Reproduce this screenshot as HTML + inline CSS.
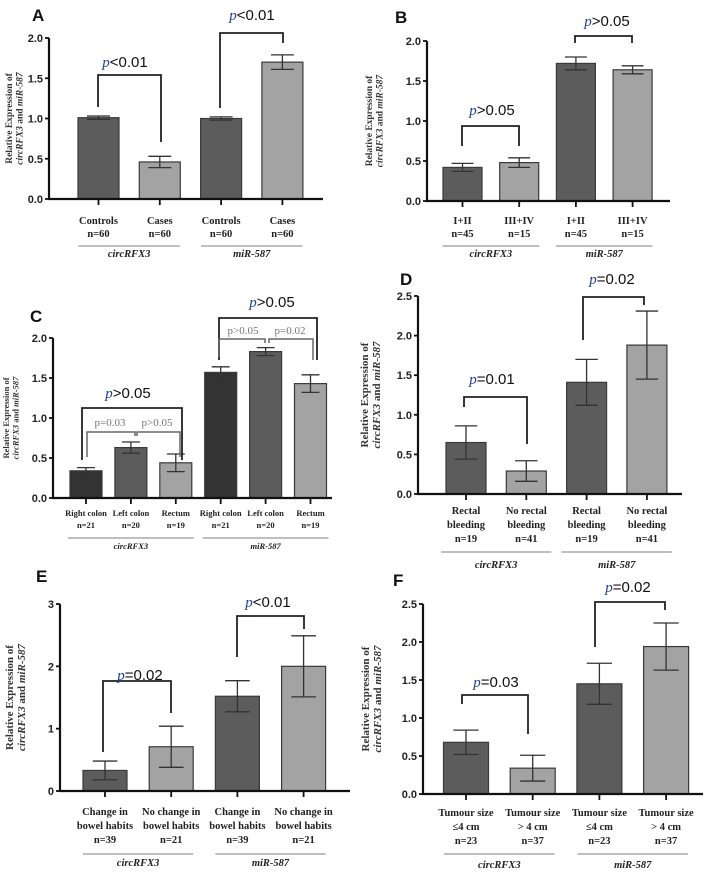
<!DOCTYPE html>
<html><head><meta charset="utf-8"><style>
html,body{margin:0;padding:0;background:#fff;}
svg{display:block;}
.tick{font-family:"Liberation Sans",sans-serif;font-weight:bold;font-size:11px;fill:#222;}
.cat{font-family:"Liberation Serif",serif;font-weight:bold;fill:#222;}
.yt{font-family:"Liberation Serif",serif;font-weight:bold;fill:#333;}
.pl{font-family:"Liberation Sans",sans-serif;font-weight:bold;font-size:17px;fill:#111;}
.pv{font-family:"Liberation Sans",sans-serif;font-size:15px;fill:#111;}
.pg{font-family:"Liberation Serif",serif;font-size:11px;fill:#777;}
</style></head><body>
<svg id="fig" width="711" height="873" viewBox="0 0 711 873" xmlns="http://www.w3.org/2000/svg"></svg>
<script>
// ---- data ----
const aValues=[1.01,0.46,1.00,1.70];
const aErrors=[0.02,0.07,0.02,0.09];
const aCats=[["Controls","n=60"],["Cases","n=60"],["Controls","n=60"],["Cases","n=60"]];
const bValues=[0.42,0.48,1.72,1.64];
const bErrors=[0.05,0.06,0.08,0.05];
const bCats=[["I+II","n=45"],["III+IV","n=15"],["I+II","n=45"],["III+IV","n=15"]];
const cValues=[0.34,0.63,0.44,1.57,1.83,1.43];
const cErrors=[0.04,0.07,0.11,0.07,0.05,0.11];
const cCats=[["Right colon","n=21"],["Left colon","n=20"],["Rectum","n=19"],["Right colon","n=21"],["Left colon","n=20"],["Rectum","n=19"]];
const dValues=[0.65,0.29,1.41,1.88];
const dErrors=[0.21,0.13,0.29,0.43];
const dCats=[["Rectal","bleeding","n=19"],["No rectal","bleeding","n=41"],["Rectal","bleeding","n=19"],["No rectal","bleeding","n=41"]];
const eValues=[0.33,0.71,1.52,2.00];
const eErrors=[0.15,0.33,0.25,0.49];
const eCats=[["Change in","bowel habits","n=39"],["No change in","bowel habits","n=21"],["Change in","bowel habits","n=39"],["No change in","bowel habits","n=21"]];
const fValues=[0.68,0.34,1.45,1.94];
const fErrors=[0.16,0.17,0.27,0.31];
const fCats=[["Tumour size","≤4 cm","n=23"],["Tumour size","> 4 cm","n=37"],["Tumour size","≤4 cm","n=23"],["Tumour size","> 4 cm","n=37"]];
const twoTicks=["0.0","0.5","1.0","1.5","2.0"];
const twoFiveTicks=["0.0","0.5","1.0","1.5","2.0","2.5"];
const threeTicks=["0","1","2","3"];

const NS="http://www.w3.org/2000/svg";
const svg=document.getElementById('fig');
function mk(tag,attrs,parent){const e=document.createElementNS(NS,tag);for(const k in attrs)e.setAttribute(k,attrs[k]);(parent||svg).appendChild(e);return e;}

function panel(cfg,values,errors,cats,ticks){
  const g=mk('g',{});
  
  
  const ys=v=>cfg.y0-(v/cfg.max)*(cfg.y0-cfg.yTop);
  const xc=i=>cfg.c0+cfg.step*i;
  const pl=mk('text',{x:cfg.lx,y:cfg.ly,class:'pl'},g);pl.textContent=cfg.id;
  
  
  values.forEach((v,i)=>{
    const col=cfg.colors[i];
    const r=mk('rect',{x:xc(i)-cfg.bw/2,y:ys(v),width:cfg.bw,height:cfg.y0-ys(v),fill:col,stroke:'#3a3a3a','stroke-width':1.2},g);
    
    
    const e=errors[i],x=xc(i),hw=cfg.bw*0.28;
    const eb=mk('path',{d:`M${x} ${ys(v+e)}V${ys(v-e)}M${x-hw} ${ys(v+e)}H${x+hw}M${x-hw} ${ys(v-e)}H${x+hw}`,stroke:'#333','stroke-width':1.3,fill:'none'},g);
    
    
  });
  const ax=mk('path',{d:`M${cfg.ax} ${ys(cfg.max)}V${cfg.y0}H${cfg.axEnd}`,stroke:'#111','stroke-width':2.2,fill:'none'},g);
  
  
  ticks.forEach((t,i)=>{
    const v=cfg.max*i/(ticks.length-1);
    mk('line',{x1:cfg.ax-4,x2:cfg.ax,y1:ys(v),y2:ys(v),stroke:'#111','stroke-width':1.8},g);
    const tx=mk('text',{x:cfg.ax-6,y:ys(v)+4,class:'tick','text-anchor':'end'},g);tx.textContent=t;
    
    
  });
  values.forEach((v,i)=>{
    mk('line',{x1:xc(i),x2:xc(i),y1:cfg.y0,y2:cfg.y0+6,stroke:'#111','stroke-width':1.8},g);
    cats[i].forEach((s,j)=>{
      const t=mk('text',{x:xc(i),y:cfg.catY+j*cfg.catDy,class:'cat','text-anchor':'middle','font-size':cfg.catFs},g);t.textContent=s;
      
      
    });
  });
  const n=values.length/2;
  ['circRFX3','miR-587'].forEach((name,k)=>{
    const a=xc(k*n)-cfg.gpad,b=xc(k*n+n-1)+cfg.gpad;
    mk('line',{x1:a,x2:b,y1:cfg.gLineY,y2:cfg.gLineY,stroke:'#999','stroke-width':1.2},g);
    const t=mk('text',{x:(a+b)/2,y:cfg.gY,class:'cat','text-anchor':'middle','font-size':cfg.catFs,'font-style':'italic'},g);t.textContent=name;
    
    
  });
  const yc=(cfg.yTop+cfg.y0)/2;
  const yt=mk('text',{class:'yt','text-anchor':'middle','font-size':cfg.ytFs,transform:`translate(${cfg.ytx},${yc}) rotate(-90)`},g);
  
  
  const t1=mk('tspan',{x:0,y:0},yt);t1.textContent='Relative Expression of';
  const t2=mk('tspan',{x:0,dy:cfg.ytFs*1.1,'font-style':'italic'},yt);t2.textContent='circRFX3';
  const t3=mk('tspan',{},yt);t3.textContent=' and ';
  const t4=mk('tspan',{'font-style':'italic'},yt);t4.textContent='miR-587';
  cfg.brackets.forEach(b=>{
    const p=mk('path',{d:`M${b[0]} ${b[3]}V${b[2]}H${b[1]}V${b[4]}`,stroke:b[5]?'#666':'#222','stroke-width':b[5]?1.5:1.8,fill:'none'},g);
    
    
  });
  cfg.pt.forEach(p=>{
    let t;
    if(p[3]){t=mk('text',{x:p[0],y:p[1],class:'pg','text-anchor':'middle'},g);t.textContent=p[2];}
    else{
      t=mk('text',{x:p[0],y:p[1],class:'pv','text-anchor':'middle'},g);
      const s1=mk('tspan',{'font-style':'italic',fill:'#1f3f8f','font-family':'Liberation Serif, serif'},t);s1.textContent='p';
      const s2=mk('tspan',{},t);s2.textContent=p[2];
    }
    
    
  });
}
const DK='#5c5c5c',LT='#a3a3a3';
panel({id:'A',lx:32,ly:21,ax:49,axEnd:323,y0:199,yTop:38,max:2,c0:98.5,step:61.3,bw:41,colors:[DK,LT,DK,LT],
  catY:224,catDy:13,catFs:10.5,gLineY:246,gY:257,gpad:20,ytx:12,ytFs:9.5,
  brackets:[[98,161,75,107,142],[220,283,33,108,43]],pt:[[125,67,'<0.01'],[252,20,'<0.01']]},aValues,aErrors,aCats,twoTicks);
panel({id:'B',lx:395,ly:23,ax:427,axEnd:670,y0:201,yTop:41,max:2,c0:462.5,step:56.7,bw:39,colors:[DK,LT,DK,LT],
  catY:224,catDy:13,catFs:10.5,gLineY:246,gY:257,gpad:20,ytx:372,ytFs:9.5,
  brackets:[[462,519,126,146,146],[575,632,36,43,43]],pt:[[492,115,'>0.05'],[607,26,'>0.05']]},bValues,bErrors,bCats,twoTicks);
panel({id:'C',lx:30,ly:322,ax:53,axEnd:332,y0:498,yTop:338,max:2,c0:86,step:44.9,bw:32,colors:['#333333',DK,LT,'#333333',DK,LT],
  catY:516,catDy:12,catFs:8.5,gLineY:538,gY:549,gpad:18,ytx:9,ytFs:8.5,
  brackets:[[82,182,408,460,460],[87,135,432,457,436,1],[137,180,432,436,457,1],[219,317,318,360,360],[219,265,339,357,343,1],[269,313,339,343,360,1]],
  pt:[[128,398,'>0.05'],[110,426,'p=0.03',1],[157,426,'p>0.05',1],[272,307,'>0.05'],[243,334,'p>0.05',1],[290,334,'p=0.02',1]]},cValues,cErrors,cCats,twoTicks);
panel({id:'D',lx:400,ly:285,ax:418,axEnd:682,y0:494,yTop:296,max:2.5,c0:466,step:60.3,bw:40,colors:[DK,LT,DK,LT],
  catY:514,catDy:14,catFs:10.5,gLineY:552,gY:568,gpad:25,ytx:368,ytFs:11,
  brackets:[[464,527,397,407,444],[583,644,297,340,305]],pt:[[492,384,'=0.01'],[612,284,'=0.02']]},dValues,dErrors,dCats,twoFiveTicks);
panel({id:'E',lx:36,ly:582,ax:60,axEnd:350,y0:791,yTop:604,max:3,c0:105,step:66.2,bw:44,colors:[DK,LT,DK,LT],
  catY:815,catDy:14,catFs:10.5,gLineY:854,gY:866,gpad:22,ytx:13,ytFs:11,
  brackets:[[103,171,681,752,713],[237,304,616,657,629]],pt:[[140,680,'=0.02'],[268,607,'<0.01']]},eValues,eErrors,eCats,threeTicks);
panel({id:'F',lx:393,ly:586,ax:423,axEnd:703,y0:794,yTop:604,max:2.5,c0:466,step:66.7,bw:45,colors:[DK,LT,DK,LT],
  catY:816,catDy:14,catFs:10.5,gLineY:854,gY:868,gpad:22,ytx:369,ytFs:11,
  brackets:[[462,528,695,704,734],[595,665,602,647,610]],pt:[[496,687,'=0.03'],[628,592,'=0.02']]},fValues,fErrors,fCats,twoFiveTicks);
</script>
</body></html>
